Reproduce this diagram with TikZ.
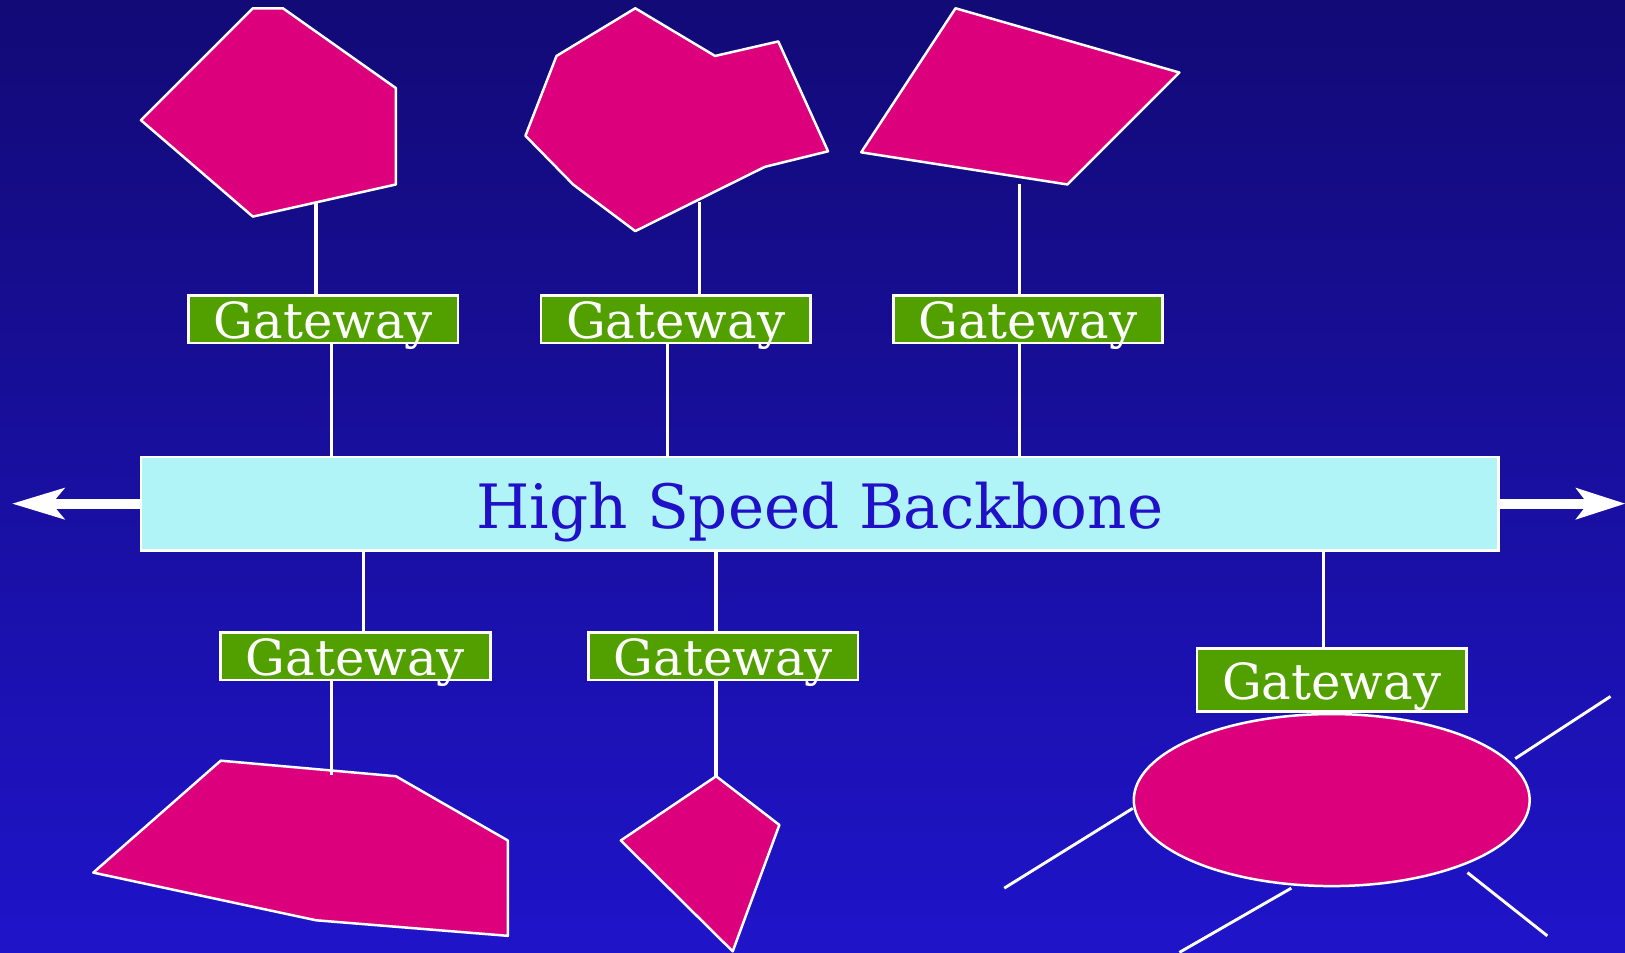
\documentclass[tikz,border=0pt]{standalone}
\usepackage{fontspec}
\setmainfont{DejaVu Serif}
\definecolor{netpink}{RGB}{220,0,124}
\definecolor{gwgreen}{RGB}{82,160,0}
\definecolor{bbcyan}{RGB}{176,244,248}
\definecolor{bbtext}{RGB}{32,16,200}
\definecolor{bgtop}{RGB}{18,10,118}
\definecolor{bgbot}{RGB}{31,20,201}
\begin{document}
\begin{tikzpicture}[x=0.5pt,y=-0.5pt,
  gateway/.style={draw=white, line width=1.3pt, fill=gwgreen, text=white,
    minimum width=130pt, minimum height=23pt, inner sep=0pt,
    text height=19pt, text depth=0pt, font=\fontsize{24}{24}\selectfont},
  backbone/.style={draw=white, line width=1.3pt, fill=bbcyan, text=bbtext,
    minimum width=655pt, minimum height=45pt, inner sep=0pt,
    text height=24pt, text depth=0pt, font=\fontsize{29.5}{30}\selectfont},
  link/.style={draw=white, line width=1.6pt},
  net/.style={fill=netpink, draw=white, line width=1.2pt, line join=round},
  spur/.style={draw=white, line width=1.4pt},
  shaft/.style={draw=white, line width=4.8pt},
  head/.style={fill=white}]

% background
\shade[top color=bgtop, bottom color=bgbot] (0,0) rectangle (1568,919);
\useasboundingbox (0,0) rectangle (1568,919);

% networks above the backbone
\path[net] (244,8) -- (273,8) -- (382,85) -- (382,178) -- (244,209) -- (136,116) -- cycle;
\path[net] (613,8) -- (690,54) -- (751,40) -- (799,146) -- (738,161) -- (613,223)
  -- (553,178) -- (507,131) -- (537,54) -- cycle;
\path[net] (922,8) -- (1138,70) -- (1030,178) -- (831,147) -- cycle;

% networks below the backbone
\path[net] (213,734) -- (382,749) -- (490,811) -- (490,903) -- (305,888) -- (90,842) -- cycle;
\path[net] (691,749) -- (752,796) -- (707,918) -- (599,811) -- cycle;
\path[net] (1285,772) ellipse [x radius=191, y radius=83];

% stub lines around the ring network
\draw[spur] (969,857) -- (1093,780);
\draw[spur] (1462,732) -- (1554,672);
\draw[spur] (1246,857) -- (1138,919);
\draw[spur] (1416,842) -- (1493,903);

% backbone and gateways
\node[backbone] (bb) at (791,486) {High Speed Backbone};
\node[gateway] (g1) at (312,308) {Gateway};
\node[gateway] (g2) at (652,308) {Gateway};
\node[gateway] (g3) at (992,308) {Gateway};
\node[gateway] (g4) at (343,633) {Gateway};
\node[gateway] (g5) at (698,633) {Gateway};
\node[gateway, minimum height=30.5pt] (g6) at (1285,656) {Gateway};

% attachment points on the networks
\coordinate (n1) at (305,195);
\coordinate (n2) at (675,195);
\coordinate (n3) at (984,178);
\coordinate (n4) at (320,748);
\coordinate (n5) at (691,749);

% vertical positions of the drops to the backbone
\coordinate (x1) at (320,0);
\coordinate (x2) at (644,0);
\coordinate (x3) at (984,0);
\coordinate (x4) at (351,0);
\coordinate (x5) at (691,0);
\coordinate (x6) at (1277,0);

% network to gateway
\draw[link] (n1) -- (n1 |- g1.north);
\draw[link] (n2) -- (n2 |- g2.north);
\draw[link] (n3) -- (n3 |- g3.north);
\draw[link] (n4 |- g4.south) -- (n4);
\draw[link] (n5 |- g5.south) -- (n5);

% gateway to backbone
\draw[link] (x1 |- g1.south) -- (x1 |- bb.north);
\draw[link] (x2 |- g2.south) -- (x2 |- bb.north);
\draw[link] (x3 |- g3.south) -- (x3 |- bb.north);
\draw[link] (x4 |- bb.south) -- (x4 |- g4.north);
\draw[link] (x5 |- bb.south) -- (x5 |- g5.north);
\draw[link] (x6 |- bb.south) -- (x6 |- g6.north);

% backbone continues both ways
\coordinate (lt) at (12,486);
\coordinate (ln) at (50,486);
\coordinate (rt) at (1568,486);
\coordinate (rn) at (1532,486);
\draw[shaft] (bb.west) -- (ln);
\draw[shaft] (bb.east) -- (rn);
\fill[head] (lt) -- (63,470.5) -- (ln) -- (63,501.5) -- cycle;
\fill[head] (rt) -- (1520,470.5) -- (rn) -- (1520,501.5) -- cycle;
\end{tikzpicture}
\end{document}
